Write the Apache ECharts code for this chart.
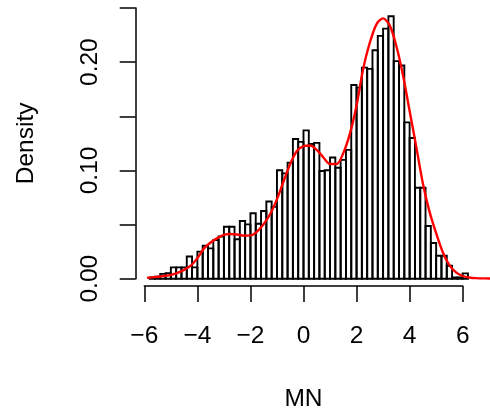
<!DOCTYPE html>
<html>
<head>
<meta charset="utf-8">
<script src="https://cdn.jsdelivr.net/npm/echarts/dist/echarts.min.js"></script>
<style>
html,body{margin:0;padding:0;background:#fff;}
#chart{width:490px;height:417px;}
</style>
</head>
<body>
<div id="chart"></div>
<script>
// Histogram bin lower edges (bin width 0.2)
var binLower = [-5.8,-5.6,-5.4,-5.2,-5.0,-4.8,-4.6,-4.4,-4.2,-4.0,
  -3.8,-3.6,-3.4,-3.2,-3.0,-2.8,-2.6,-2.4,-2.2,-2.0,
  -1.8,-1.6,-1.4,-1.2,-1.0,-0.8,-0.6,-0.4,-0.2,0.0,
  0.2,0.4,0.6,0.8,1.0,1.2,1.4,1.6,1.8,2.0,
  2.2,2.4,2.6,2.8,3.0,3.2,3.4,3.6,3.8,4.0,
  4.2,4.4,4.6,4.8,5.0,5.2,5.4,5.6,5.8,6.0];
var binUpper = [-5.6,-5.4,-5.2,-5.0,-4.8,-4.6,-4.4,-4.2,-4.0,-3.8,
  -3.6,-3.4,-3.2,-3.0,-2.8,-2.6,-2.4,-2.2,-2.0,-1.8,
  -1.6,-1.4,-1.2,-1.0,-0.8,-0.6,-0.4,-0.2,0.0,0.2,
  0.4,0.6,0.8,1.0,1.2,1.4,1.6,1.8,2.0,2.2,
  2.4,2.6,2.8,3.0,3.2,3.4,3.6,3.8,4.0,4.2,
  4.4,4.6,4.8,5.0,5.2,5.4,5.6,5.8,6.0,6.2];
// Histogram densities
var binDensity = [0.0012,0.0018,0.0045,0.0052,0.0105,0.0105,0.0105,0.0205,0.0105,0.0250,
  0.0305,0.0280,0.0357,0.0390,0.0480,0.0480,0.0365,0.0533,0.0502,0.0604,
  0.0508,0.0625,0.0713,0.0664,0.1002,0.0973,0.1072,0.1290,0.1264,0.1370,
  0.1245,0.1255,0.0995,0.1002,0.1120,0.1025,0.1098,0.1190,0.1790,0.1765,
  0.1950,0.1938,0.2110,0.2243,0.2310,0.2425,0.2010,0.1970,0.1444,0.1300,
  0.0840,0.0840,0.0487,0.0330,0.0212,0.0212,0.0120,0.0012,0.0012,0.0049];
// Kernel density curve
var kdeX = [-5.9,-5.75,-5.5,-5.25,-5.0,-4.75,-4.5,-4.25,-4.0,-3.75,
  -3.5,-3.25,-3.0,-2.75,-2.5,-2.25,-2.0,-1.75,-1.5,-1.25,
  -1.0,-0.75,-0.5,-0.25,0.0,0.25,0.5,0.75,1.0,1.25,
  1.5,1.75,2.0,2.25,2.5,2.75,3.0,3.25,3.5,3.75,
  4.0,4.25,4.5,4.75,5.0,5.25,5.5,5.75,6.0,6.25,6.5,7.0,7.2];
var kdeY = [0.0008,0.0012,0.0018,0.0026,0.0036,0.0053,0.0082,0.0120,0.0190,0.0280,
  0.0335,0.0375,0.0405,0.0413,0.0408,0.0398,0.0400,0.0435,0.0505,0.0600,
  0.0735,0.0900,0.1060,0.1180,0.1225,0.1230,0.1190,0.1120,0.1060,0.1060,
  0.1160,0.1340,0.1600,0.1940,0.2180,0.2350,0.2405,0.2340,0.2150,0.1880,
  0.1550,0.1220,0.0880,0.0620,0.0420,0.0245,0.0125,0.0058,0.0025,0.0011,0.0005,0.0002,0.0001];
var xTicks = [-6,-4,-2,0,2,4,6];
var yTicks = [0.00,0.05,0.10,0.15,0.20,0.25];
var xTitle = 'MN';
var yTitle = 'Density';

var histData = binLower.map(function(l,i){ return [l, binUpper[i], binDensity[i]]; });
var kdeData = kdeX.map(function(x,i){ return [x, kdeY[i]]; });

var FONT = 'Liberation Sans';
var FS = 24.5;
var chart = echarts.init(document.getElementById('chart'), null, {renderer:'canvas'});
chart.setOption({
  animation:false,
  backgroundColor:'#ffffff',
  grid:[
    {left:135.7, right:0, top:5.8, bottom:128},
    {left:144.3, right:27.3, top:5.8, bottom:128},
    {left:135.7, width:10, top:8, bottom:138.3}
  ],
  xAxis:[
    {gridIndex:0, type:'value', min:-6.325, max:7.03, show:false},
    {gridIndex:1, type:'value', min:xTicks[0], max:xTicks[xTicks.length-1], interval:2,
      position:'bottom',
      axisLine:{show:true, lineStyle:{color:'#000', width:1.5}},
      axisTick:{show:true, length:16, lineStyle:{color:'#000', width:1.5}},
      splitLine:{show:false},
      axisLabel:{margin:38, color:'#000', fontFamily:FONT, fontSize:FS,
        formatter:function(v){ return String(v).replace('-', '\u2212'); }},
      name:xTitle, nameLocation:'middle', nameGap:101,
      nameTextStyle:{color:'#000', fontFamily:FONT, fontSize:FS}
    },
    {gridIndex:2, type:'value', show:false}
  ],
  yAxis:[
    {gridIndex:0, type:'value', min:-0.00951, max:0.2521, show:false},
    {gridIndex:1, type:'value', show:false},
    {gridIndex:2, type:'value', min:yTicks[0], max:yTicks[yTicks.length-1], interval:0.05,
      position:'left',
      axisLine:{show:true, lineStyle:{color:'#000', width:1.5}},
      axisTick:{show:true, length:16, lineStyle:{color:'#000', width:1.5}},
      splitLine:{show:false},
      axisLabel:{margin:33, rotate:90, color:'#000', fontFamily:FONT, fontSize:FS,
        showMinLabel:true, showMaxLabel:true, hideOverlap:false,
        formatter:function(v){ return (Math.round(v*100) % 10 === 0) ? v.toFixed(2) : ''; }},
      name:yTitle, nameLocation:'middle', nameGap:97, nameRotate:90,
      nameTextStyle:{color:'#000', fontFamily:FONT, fontSize:FS}
    }
  ],
  series:[
    {
      type:'custom', xAxisIndex:0, yAxisIndex:0, clip:true,
      data:histData,
      renderItem:function(params, api){
        var p0 = api.coord([api.value(0), 0]);
        var p1 = api.coord([api.value(1), api.value(2)]);
        return {
          type:'rect',
          shape:{x:p0[0], y:p1[1], width:p1[0]-p0[0], height:p0[1]-p1[1]},
          style:{fill:'none', stroke:'#000', lineWidth:1.9}
        };
      },
      z:2
    },
    {
      type:'line', xAxisIndex:0, yAxisIndex:0, data:kdeData,
      showSymbol:false, symbol:'none', smooth:0.3, clip:true,
      lineStyle:{color:'#ff0000', width:2.4},
      z:3
    }
  ]
});
</script>
</body>
</html>
